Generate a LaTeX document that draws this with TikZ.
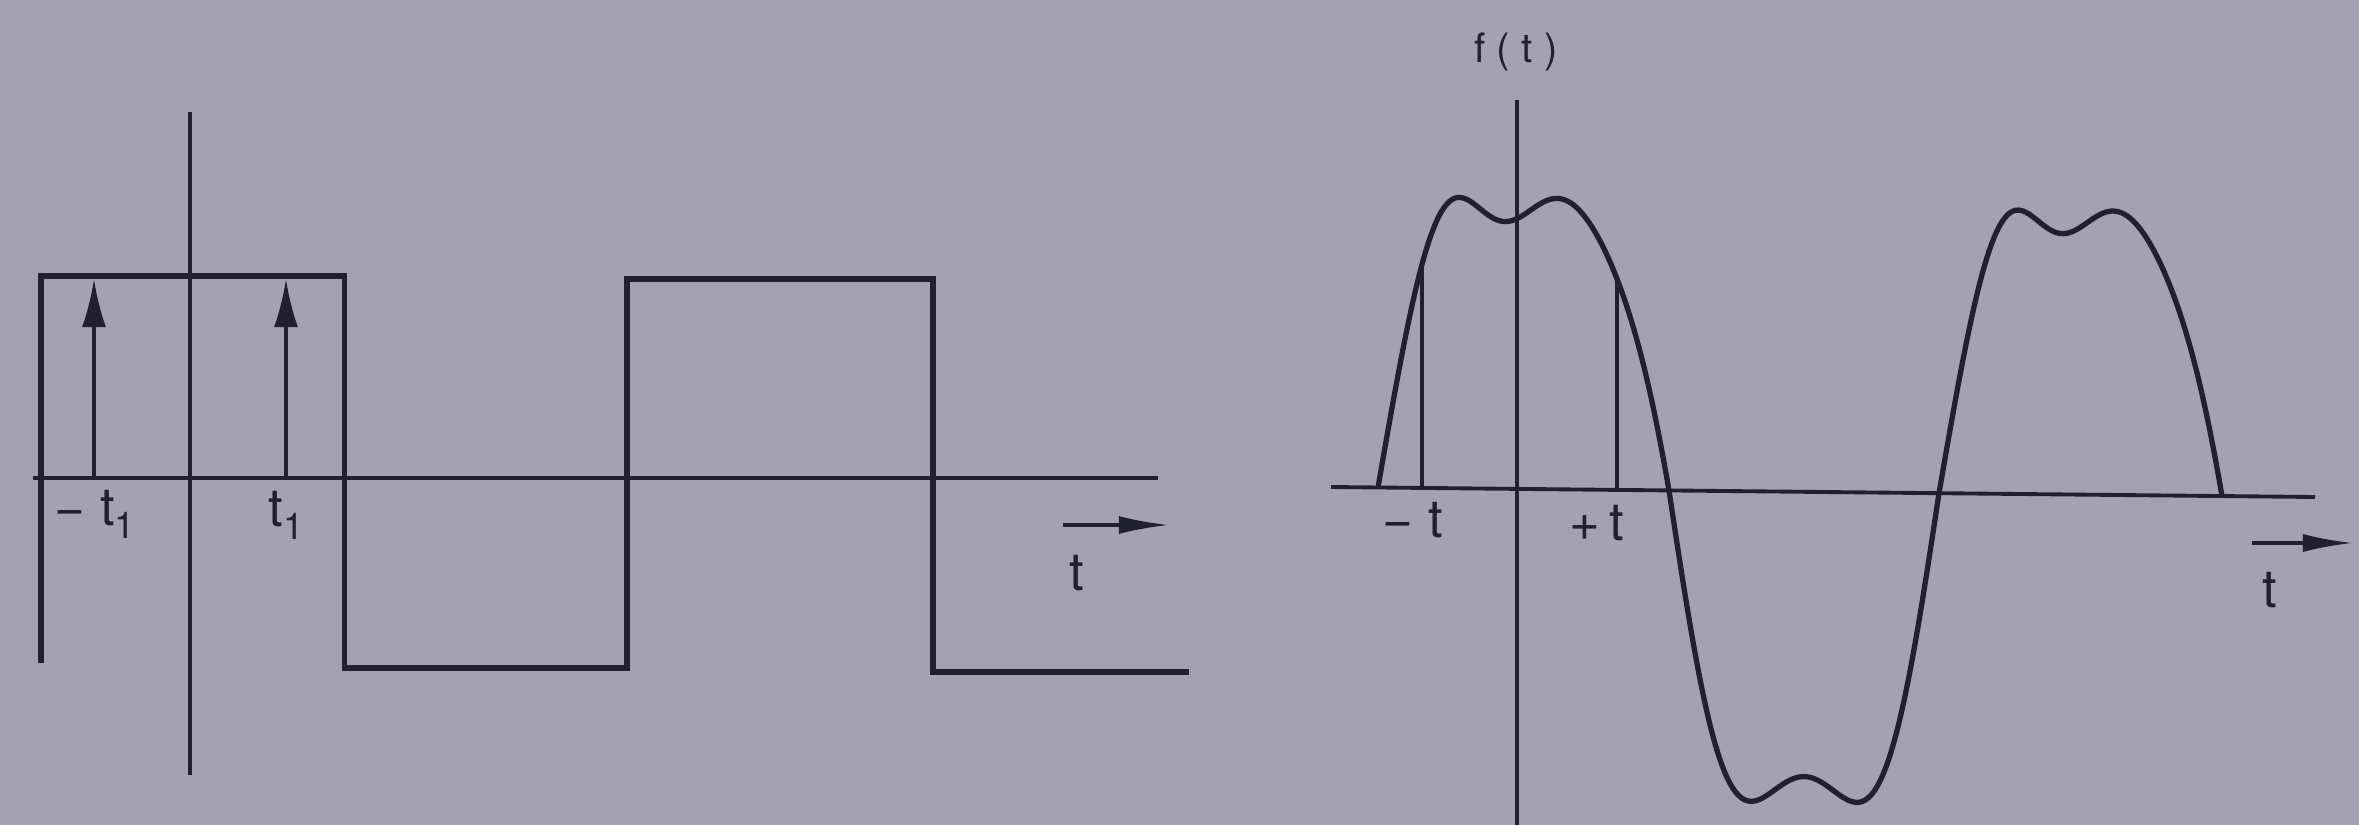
\documentclass[tikz,border=0pt]{standalone}
\usepackage{fontspec}
\setmainfont{TeX Gyre Heros}
\usetikzlibrary{arrows.meta,positioning}
\definecolor{paper}{RGB}{164,162,176}
\definecolor{ink}{RGB}{32,32,48}
\newcommand{\lowidx}[1]{\raisebox{-3.7pt}{\fontsize{10.5}{10.5}\selectfont #1}}

\begin{document}
\begin{tikzpicture}[
  axis/.style={ink, line width=1.1pt},
  wave/.style={ink, line width=1.5pt},
  lbl/.style={ink, font=\fontsize{15}{15}\selectfont, inner sep=0pt, anchor=base},
  tarrow/.style={ink, line width=1pt, -{Latex[length=5mm,width=1.8mm]}},
  x=0.01cm, y=-0.01cm, shift={(0,825)},
  declare function={
    lt(\x)=(\x<1669) ? (\x-1378)/291*180 : ((\x<1939) ? (\x-1669)/270*180 : (\x-1939)/283*180);
    lk(\x)=(\x<1669) ? 0.15 : ((\x<1939) ? 0 : 0.15);
    lu(\x)=lt(\x)+lk(\x)*sin(lt(\x))^2*lt(\x);
    la(\x)=(\x<1669) ? 334 : ((\x<1939) ? -356 : 326);
    fw(\x)=487+(\x-1331)*0.01016-la(\x)*(sin(lu(\x))+0.2*sin(3*lu(\x)));
  }
]
  \fill[paper] (0,0) rectangle (2359,825);
  \useasboundingbox (0,0) rectangle (2359,825);

  % square wave
  \draw[axis] (33,478) -- (1158,478);
  \draw[axis] (190,112) -- (190,775);
  \draw[wave] (41,663) |- (344.5,276) |- (627,668) |- (933,279) |- (1189,672);
  \draw[ink, line width=1pt, -{Latex[length=4.8mm,width=2.4mm]}] (94,478) -- (94,279);
  \draw[ink, line width=1pt, -{Latex[length=4.8mm,width=2.4mm]}] (286,478) -- (286,279);
  \node[lbl] (mt1) at (95,525) {− t\lowidx{1}};
  \node[lbl] (pt1) at (286,526) {t\lowidx{1}};
  \coordinate (la) at (1063,525);
  \coordinate (lb) at (1169,525);
  \draw[tarrow] (la) -- (lb);
  \node[lbl] (lt) at (1077,590) {t};

  % fundamental plus third harmonic
  \draw[axis] (1331,487) -- (2315,497);
  \draw[axis] (1517,100) -- (1517,825);
  \draw[wave] plot[domain=1378:2222, samples=320] (\x,{fw(\x)});
  \draw[axis] (1422,{487+91*0.01016}) -- (1422,{fw(1422)});
  \draw[axis] (1617,{487+286*0.01016}) -- (1617,{fw(1617)});
  \node[lbl] (mt) at (1413,537) {− t};
  \node[lbl] (pt) at (1597,540) {+\,t};
  \node[lbl, font=\fontsize{11.5}{11.5}\selectfont] (ft) at (1516,62) {f ( t )};
  \coordinate (ra) at (2252,543);
  \coordinate (rb) at (2353,543);
  \draw[tarrow] (ra) -- (rb);
  \node[lbl] (rt) at (2270,607) {t};
\end{tikzpicture}
\end{document}
